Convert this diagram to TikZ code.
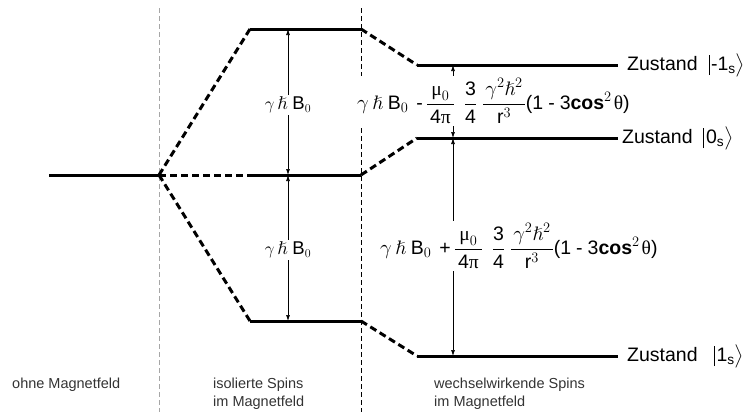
\documentclass[tikz,border=0pt]{standalone}
\usepackage{amsmath}
\usepackage{amssymb}
\usepackage{fontspec}
\setmainfont{Liberation Sans}
\newfontfamily\grk{Liberation Serif}
\usepackage{tikz}
\usetikzlibrary{arrows.meta}
\pgfdeclarelayer{edgelayer}
\pgfdeclarelayer{nodelayer}
\pgfsetlayers{edgelayer,nodelayer,main}
\tikzstyle{none}=[inner sep=0pt]
\tikzstyle{level}=[draw=black, line width=3pt]
\tikzstyle{splitting}=[draw=black, line width=3pt, dash pattern=on 7pt off 4pt]
\tikzstyle{divider}=[draw=black, line width=0.8pt, dash pattern=on 5pt off 3pt]
\tikzstyle{gap}=[<->, >={Latex[length=6pt,width=4pt]}, line width=0.7pt]
\tikzstyle{energy}=[fill=white, inner sep=2pt, font=\fontsize{18.5}{22}\selectfont]
\tikzstyle{state}=[anchor=west, inner sep=0pt, font=\fontsize{19.5}{22}\selectfont]
\tikzstyle{region}=[anchor=north west, align=left, inner sep=0pt, text=black!80, font=\fontsize{14.5}{18}\selectfont]
\newcommand{\gh}{$\gamma\,\hslash$}
\newcommand{\dipole}[1]{\gh\hspace{5pt}B$_0$\hspace{8pt}#1\hspace{3pt}$\dfrac{\mbox{\hspace{2pt}\grk μ}_0\hspace{2pt}}{\mbox{\hspace{3pt}4\grk π\hspace{3pt}}}$\hspace{9pt}$\dfrac{\mbox{3}}{\mbox{4}}$\hspace{5pt}$\dfrac{\hspace{2pt}\gamma^2\hslash^2\hspace{2pt}}{\mbox{r}^3}$(1\hspace{5pt}-\hspace{5pt}3\textbf{cos}$^2$\hspace{2pt}{\grk θ})}
\newcommand{\ket}[1]{\rule[-5pt]{0.6pt}{20pt}\hspace{2pt}#1$\bigr\rangle$}

\begin{document}
\begin{tikzpicture}[x=1pt, y=-1pt]
			\useasboundingbox (0,0) rectangle (753,416);
			\begin{pgfonlayer}{nodelayer}
			\node [style=none] (0) at (49, 175) {};
			\node [style=none] (1) at (159, 175) {};
			\node [style=none] (2) at (250, 29) {};
			\node [style=none] (3) at (361, 29) {};
			\node [style=none] (4) at (250, 175) {};
			\node [style=none] (5) at (361, 175) {};
			\node [style=none] (6) at (250, 321) {};
			\node [style=none] (7) at (361, 321) {};
			\node [style=none] (8) at (417, 65) {};
			\node [style=none] (9) at (618, 65) {};
			\node [style=none] (10) at (417, 138) {};
			\node [style=none] (11) at (618, 138) {};
			\node [style=none] (12) at (417, 356) {};
			\node [style=none] (13) at (618, 356) {};
			\node [style=none] (14) at (288, 29) {};
			\node [style=none] (15) at (288, 175) {};
			\node [style=none] (16) at (288, 321) {};
			\node [style=none] (17) at (453, 65) {};
			\node [style=none] (18) at (453, 138) {};
			\node [style=none] (19) at (453, 356) {};
			\node [style=none] (20) at (159, 8) {};
			\node [style=none] (21) at (159, 412) {};
			\node [style=none] (22) at (361, 8) {};
			\node [style=none] (23) at (361, 412) {};
			\node [style=energy] (24) at (288, 105) {\gh\hspace{5pt}B$_0$};
			\node [style=energy] (25) at (288, 250) {\gh\hspace{5pt}B$_0$};
			\node [style=energy, anchor=west, font=\fontsize{19.5}{22}\selectfont] (26) at (355, 101) {\dipole{-}};
			\node [style=energy, anchor=west, font=\fontsize{19.5}{22}\selectfont] (27) at (378, 246) {\dipole{+}};
			\node [style=state] (28) at (627, 65) {Zustand\ \ \ket{-1$_{\text{s}}$}};
			\node [style=state] (29) at (622, 138) {Zustand\ \ \ket{0$_{\text{s}}$}};
			\node [style=state] (30) at (627, 356) {Zustand\ \ \ \ket{1$_{\text{s}}$}};
			\node [style=region] (31) at (12, 378) {ohne Magnetfeld};
			\node [style=region] (32) at (213, 378) {isolierte Spins\\im Magnetfeld};
			\node [style=region] (33) at (434, 378) {wechselwirkende Spins\\im Magnetfeld};
			\end{pgfonlayer}
			\begin{pgfonlayer}{edgelayer}
			\draw [style=divider, black!35] (20.center) to (21.center);
			\draw [style=divider] (22.center) to (23.center);
			\draw [style=level] (0.center) to (1.center);
			\draw [style=splitting] (1.center) to (2.center);
			\draw [style=splitting] (1.center) to (4.center);
			\draw [style=splitting] (1.center) to (6.center);
			\draw [style=level] (2.center) to (3.center);
			\draw [style=level] (4.center) to (5.center);
			\draw [style=level] (6.center) to (7.center);
			\draw [style=splitting] (3.center) to (8.center);
			\draw [style=splitting] (5.center) to (10.center);
			\draw [style=splitting] (7.center) to (12.center);
			\draw [style=level] (8.center) to (9.center);
			\draw [style=level] (10.center) to (11.center);
			\draw [style=level] (12.center) to (13.center);
			\draw [style=gap] (15.center) to (14.center);
			\draw [style=gap] (15.center) to (16.center);
			\draw [style=gap] (18.center) to (17.center);
			\draw [style=gap] (18.center) to (19.center);
			\end{pgfonlayer}
\end{tikzpicture}
\end{document}
